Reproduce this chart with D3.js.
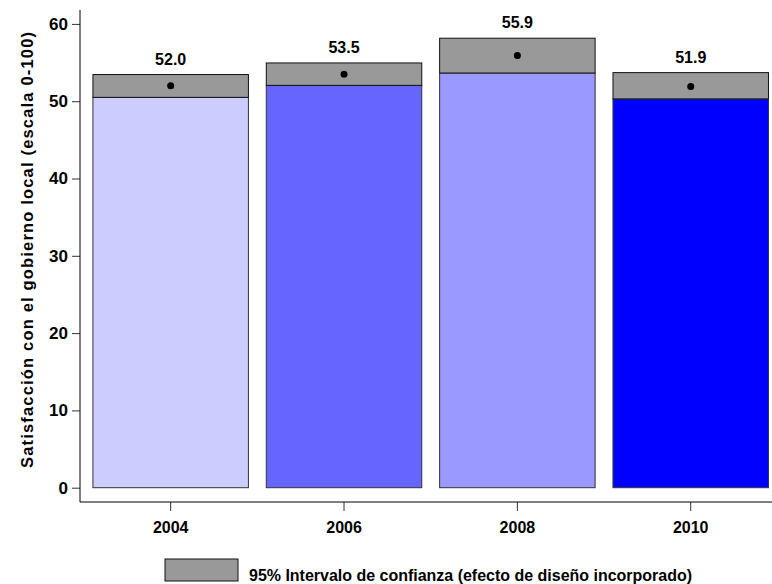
<!DOCTYPE html>
<html>
<head>
<meta charset="utf-8">
<script src="https://cdn.jsdelivr.net/npm/d3@7"></script>
<style>
  html, body { margin: 0; padding: 0; background: #fff; }
  svg { display: block; }
  text { font-family: "Liberation Sans", Arial, sans-serif; font-weight: bold; fill: #000; }
</style>
</head>
<body>
<svg id="chart" width="772" height="584"></svg>
<script>
const years = ["2004", "2006", "2008", "2010"];
const means = [52.0, 53.5, 55.9, 51.9];
const ciLow = [50.5, 52.05, 53.65, 50.3];
const ciHigh = [53.45, 54.95, 58.15, 53.7];
const barColors = ["#ccccff", "#6666ff", "#9999ff", "#0000ff"];
const yTicks = [0, 10, 20, 30, 40, 50, 60];
const yLabel = "Satisfacción con el gobierno local (escala 0-100)";
const legendLabel = "95% Intervalo de confianza (efecto de diseño incorporado)";

const svg = d3.select("#chart");

const x = d3.scaleBand().domain(years).range([84, 777.4]).paddingInner(0.103).paddingOuter(0.0515);
const y = d3.scaleLinear().domain([-1.85, 61.8]).range([502, 10]);

// bars (up to lower CI bound)
svg.selectAll("rect.bar").data(years).enter().append("rect")
  .attr("class", "bar")
  .attr("x", d => x(d))
  .attr("width", x.bandwidth())
  .attr("y", (d, i) => y(ciLow[i]))
  .attr("height", (d, i) => y(0) - y(ciLow[i]))
  .attr("fill", (d, i) => barColors[i])
  .attr("stroke", "#333")
  .attr("stroke-width", 1);

// CI boxes
svg.selectAll("rect.ci").data(years).enter().append("rect")
  .attr("class", "ci")
  .attr("x", d => x(d))
  .attr("width", x.bandwidth())
  .attr("y", (d, i) => y(ciHigh[i]))
  .attr("height", (d, i) => y(ciLow[i]) - y(ciHigh[i]))
  .attr("fill", "#999999")
  .attr("stroke", "#111")
  .attr("stroke-width", 1);

// mean points
svg.selectAll("circle.pt").data(years).enter().append("circle")
  .attr("cx", d => x(d) + x.bandwidth() / 2)
  .attr("cy", (d, i) => y(means[i]))
  .attr("r", 3.5)
  .attr("fill", "#000");

// value labels
svg.selectAll("text.val").data(years).enter().append("text")
  .attr("x", d => x(d) + x.bandwidth() / 2)
  .attr("y", (d, i) => y(ciHigh[i]) - 10)
  .attr("text-anchor", "middle")
  .style("font-size", "16px")
  .text((d, i) => means[i].toFixed(1));

// y axis
const yAxis = svg.append("g").attr("transform", "translate(80,0)")
  .call(d3.axisLeft(y).tickValues(yTicks).tickSize(8).tickPadding(4));
yAxis.select(".domain").remove();
yAxis.selectAll(".tick line").attr("stroke", "#333");
yAxis.selectAll(".tick text").style("font-size", "17px").style("font-family", "'Liberation Sans', Arial, sans-serif").style("font-weight", "bold").attr("fill", "#000");
svg.append("line").attr("x1", 80).attr("x2", 80).attr("y1", 10).attr("y2", 502).attr("stroke", "#000");

// x axis
const xAxis = svg.append("g").attr("transform", "translate(0,502)")
  .call(d3.axisBottom(x).tickSize(9).tickPadding(11));
xAxis.select(".domain").remove();
xAxis.selectAll(".tick line").attr("stroke", "#333");
xAxis.selectAll(".tick text").style("font-size", "16px").style("font-family", "'Liberation Sans', Arial, sans-serif").style("font-weight", "bold").attr("fill", "#000");
svg.append("line").attr("x1", 80).attr("x2", 772).attr("y1", 502).attr("y2", 502).attr("stroke", "#000");

// y label
svg.append("text")
  .attr("transform", "translate(33,250) rotate(-90)")
  .attr("text-anchor", "middle")
  .style("font-size", "16.5px")
  .attr("textLength", 436)
  .attr("lengthAdjust", "spacing")
  .text(yLabel);

// legend
svg.append("rect").attr("x", 165).attr("y", 559).attr("width", 73).attr("height", 22)
  .attr("fill", "#999999").attr("stroke", "#111").attr("stroke-width", 1);
svg.append("text").attr("x", 249).attr("y", 581)
  .style("font-size", "16px")
  .attr("textLength", 443)
  .attr("lengthAdjust", "spacingAndGlyphs")
  .text(legendLabel);
</script>
</body>
</html>
